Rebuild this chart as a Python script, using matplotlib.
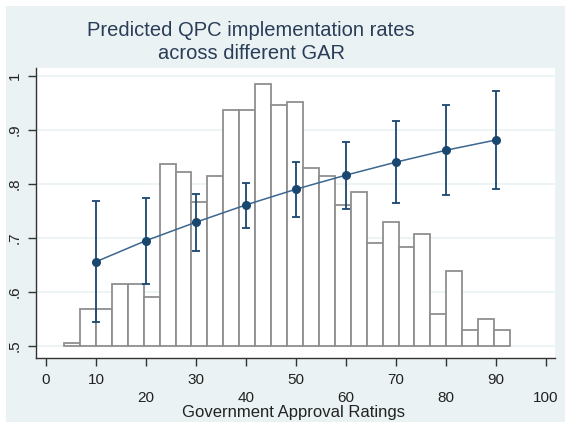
import numpy as np
import matplotlib.pyplot as plt
from matplotlib.patches import Rectangle

plt.rcParams['font.family'] = ['Liberation Sans', 'DejaVu Sans']

# DATA
# histogram of government approval ratings (28 bins), heights read on the .5-1 scale
bin_start = 3.6
bin_width = 3.186
hist_tops = [0.506, 0.568, 0.568, 0.614, 0.614, 0.591, 0.837, 0.821, 0.767, 0.814,
             0.936, 0.936, 0.984, 0.945, 0.952, 0.829, 0.814, 0.760, 0.784, 0.690,
             0.729, 0.683, 0.707, 0.560, 0.638, 0.530, 0.551, 0.530]

# predicted implementation rates with confidence intervals
gar = [10, 20, 30, 40, 50, 60, 70, 80, 90]
pred = [0.656, 0.695, 0.729, 0.761, 0.790, 0.816, 0.840, 0.862, 0.881]
ci_hi = [0.769, 0.773, 0.781, 0.802, 0.840, 0.878, 0.916, 0.945, 0.971]
ci_lo = [0.544, 0.615, 0.675, 0.718, 0.739, 0.754, 0.765, 0.779, 0.791]

xticks_top = [0, 10, 30, 50, 70, 90]
xticks_low = [20, 40, 60, 80, 100]
yticks = [0.5, 0.6, 0.7, 0.8, 0.9, 1.0]
yticklabels = ['.5', '.6', '.7', '.8', '.9', '1']

navy = '#1a476f'
bg = '#eaf2f3'

# PLOTTING
fig = plt.figure(figsize=(5.65, 4.22), dpi=100)
fig.patch.set_facecolor('white')
fig.patches.append(Rectangle((6/565, 0), 1, 1 - 6/422, transform=fig.transFigure,
                             facecolor=bg, edgecolor='none', zorder=-10))
ax = fig.add_axes([36/565, 64/422, 519/565, 290/422])
ax.set_facecolor('white')

edges = bin_start + bin_width*np.arange(len(hist_tops))
base = 0.5
ax.bar(edges, np.array(hist_tops) - base, width=bin_width, bottom=base, align='edge',
       color='white', edgecolor='#8f8f8f', linewidth=1.3, zorder=2)

pred = np.array(pred)
yerr = [pred - np.array(ci_lo), np.array(ci_hi) - pred]
ax.errorbar(gar, pred, yerr=yerr, fmt='none', ecolor=navy, elinewidth=1.3,
            capsize=3, capthick=1.3, zorder=3)
ax.plot(gar, pred, color='#3b6790', linewidth=1.1, zorder=4)
ax.plot(gar, pred, 'o', color=navy, markersize=5.5, zorder=5)

ax.set_xlim(-2, 101.8)
ax.set_ylim(0.478, 1.014)
ax.set_yticks(yticks)
ax.set_yticklabels(yticklabels, rotation=90, va='center', fontsize=11)
for y in yticks:
    ax.axhline(y, color=bg, linewidth=1.2, zorder=1)

ax.set_xticks(xticks_top + xticks_low)
labels = [str(v) for v in xticks_top] + ['\n' + str(v) for v in xticks_low]
ax.set_xticklabels(labels, fontsize=11, linespacing=1.3)
ax.tick_params(axis='both', direction='out', length=6, width=1, color='#333333', labelcolor='#222222')
ax.tick_params(axis='x', pad=5)
ax.tick_params(axis='y', pad=4)

for s in ['top', 'right']:
    ax.spines[s].set_visible(False)
for s in ['left', 'bottom']:
    ax.spines[s].set_color('#333333')
    ax.spines[s].set_linewidth(1.0)

fig.text(251/565, 1 - 42/422, 'Predicted QPC implementation rates\nacross different GAR',
         ha='center', va='center', fontsize=14.5, color='#2a3d58', linespacing=1.25)
fig.text(294/565, 1 - 417/422, 'Government Approval Ratings', ha='center', va='baseline',
         fontsize=12, color='#222222')

plt.savefig('out.png', dpi=100, facecolor=fig.get_facecolor())
